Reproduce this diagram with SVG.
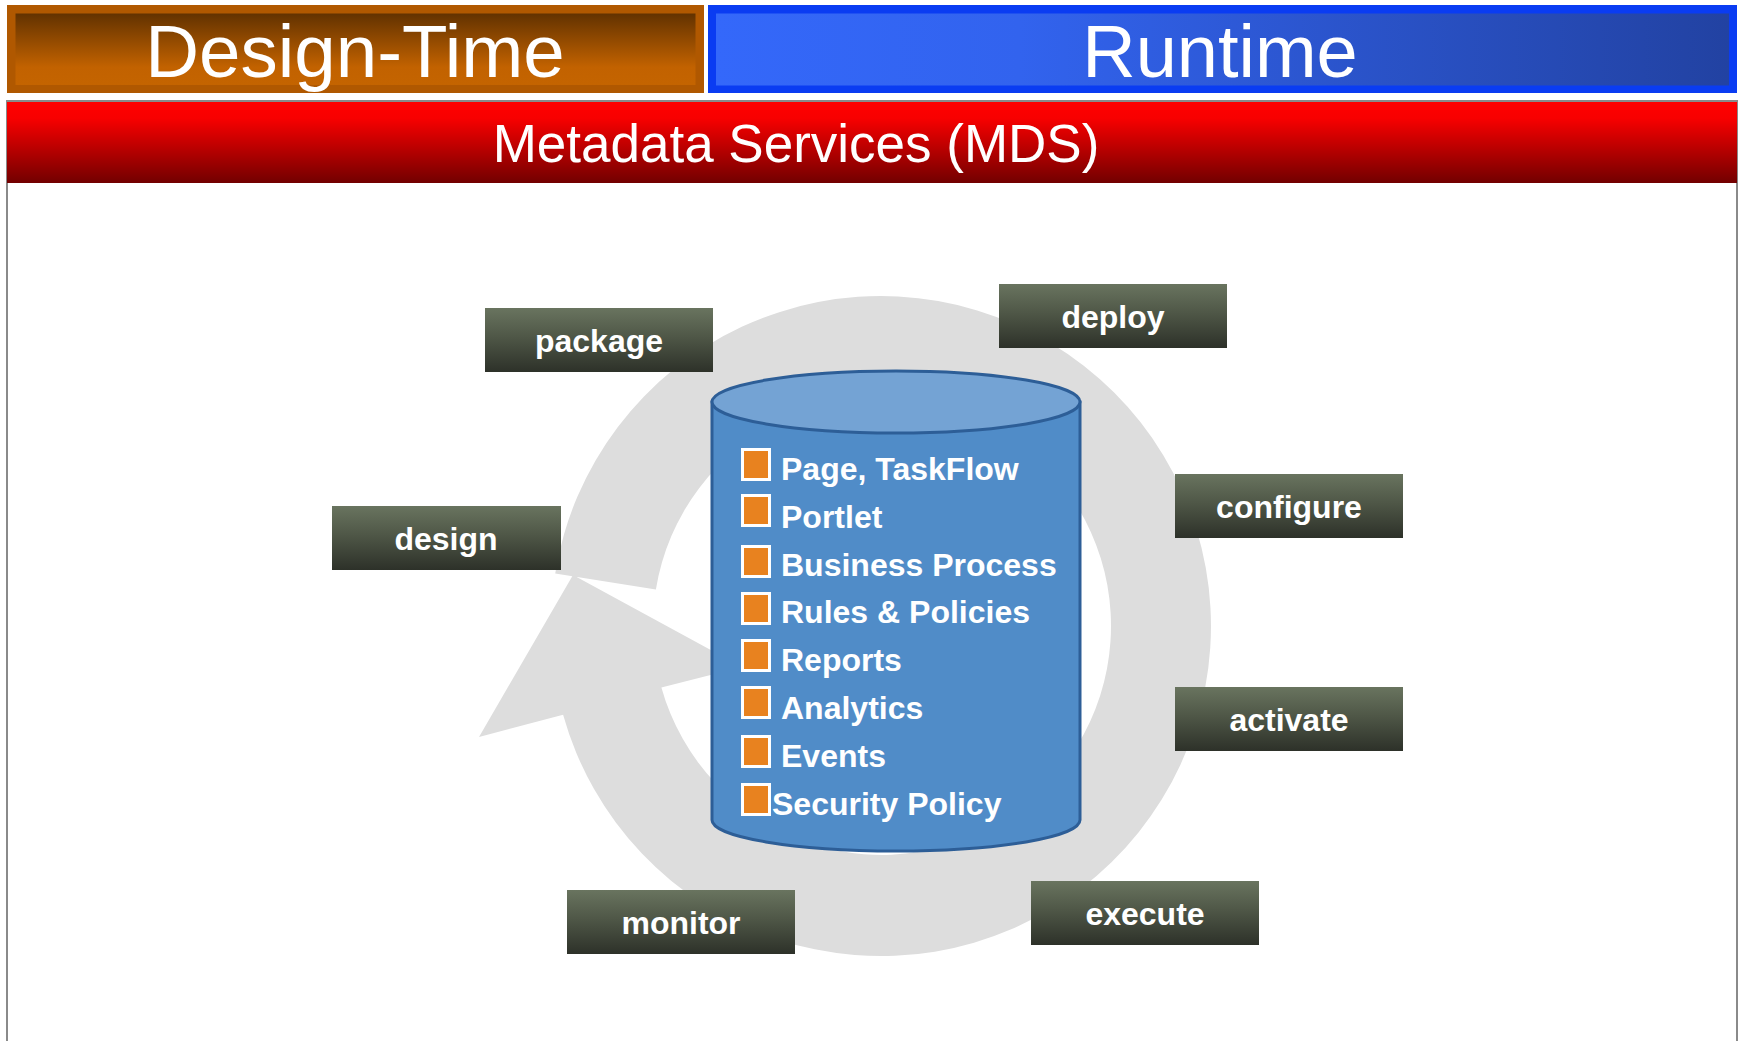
<svg xmlns="http://www.w3.org/2000/svg" width="1739" height="1041" viewBox="0 0 1739 1041">
<defs>
<linearGradient id="gDesign" x1="0" y1="0" x2="0" y2="1">
<stop offset="0" stop-color="#623200"/><stop offset="0.75" stop-color="#C26200"/><stop offset="1" stop-color="#C46400"/>
</linearGradient>
<linearGradient id="gRuntime" x1="0" y1="0" x2="1" y2="0">
<stop offset="0" stop-color="#3468FA"/><stop offset="0.3" stop-color="#3263EE"/><stop offset="1" stop-color="#2242A2"/>
</linearGradient>
<linearGradient id="gRed" x1="0" y1="0" x2="0" y2="1">
<stop offset="0" stop-color="#FF0000"/><stop offset="0.2" stop-color="#F80000"/><stop offset="1" stop-color="#720000"/>
</linearGradient>
<linearGradient id="gLabel" x1="0" y1="0" x2="0" y2="1">
<stop offset="0" stop-color="#69745F"/><stop offset="0.45" stop-color="#4F5747"/><stop offset="1" stop-color="#2D3129"/>
</linearGradient>
<style>
.hdr{font-family:"Liberation Sans",Arial,sans-serif;fill:#fff;text-anchor:middle}
.lbl rect{fill:url(#gLabel)}
.lbl text{font-family:"Liberation Sans",Arial,sans-serif;font-weight:bold;font-size:32px;fill:#fff;text-anchor:middle}
.item rect{fill:#E8821F;stroke:#fff;stroke-width:3}
.item text{font-family:"Liberation Sans",Arial,sans-serif;font-weight:bold;font-size:32px;fill:#fff}
</style>
</defs>
<rect width="1739" height="1041" fill="#fff"/>
<rect id="frame" x="7" y="101" width="1730" height="962" fill="#fff" stroke="#8a8a8a" stroke-width="2"/>

<g id="header-design">
<rect x="7" y="5" width="697" height="88" fill="#B05800"/>
<rect x="15.5" y="13.5" width="680" height="71.5" fill="url(#gDesign)"/>
<text class="hdr" x="355" y="77" font-size="74.5">Design-Time</text>
</g>
<g id="header-runtime">
<rect x="708" y="5" width="1029" height="88" fill="#0A3CF2"/>
<rect x="716" y="13.5" width="1013" height="72" fill="url(#gRuntime)"/>
<text class="hdr" x="1220" y="77" font-size="74">Runtime</text>
</g>
<g id="mds-bar">
<rect x="7" y="102" width="1730" height="81" fill="url(#gRed)"/>
<text class="hdr" x="796" y="161.5" font-size="53">Metadata Services (MDS)</text>
</g>

<g id="connectors">
<path id="cycle-arrow" fill="#DDDDDD" d="M555.2,573.4 A330,330 0 1 1 563.1,714.7 L479,737 L573,575 L742,667 L661.4,687.4 A229,229 0 1 0 655.9,589.6 Z"/>
</g>

<g id="repository">
<path d="M712,402 L712,820 A184,31 0 0 0 1080,820 L1080,402 Z" fill="#508CC8" stroke="#2D5E97" stroke-width="3"/>
<ellipse cx="896" cy="402" rx="184" ry="31" fill="#74A3D4" stroke="#2D5E97" stroke-width="3"/>
<g class="item"><rect x="742.5" y="449.5" width="27" height="30"/><text x="781" y="480">Page, TaskFlow</text></g>
<g class="item"><rect x="742.5" y="495.5" width="27" height="30"/><text x="781" y="527.5">Portlet</text></g>
<g class="item"><rect x="742.5" y="546.5" width="27" height="30"/><text x="781" y="575.5">Business Process</text></g>
<g class="item"><rect x="742.5" y="593.5" width="27" height="30"/><text x="781" y="623">Rules &amp; Policies</text></g>
<g class="item"><rect x="742.5" y="640.5" width="27" height="30"/><text x="781" y="670.5">Reports</text></g>
<g class="item"><rect x="742.5" y="687.5" width="27" height="30"/><text x="781" y="718.5">Analytics</text></g>
<g class="item"><rect x="742.5" y="736.5" width="27" height="30"/><text x="781" y="767">Events</text></g>
<g class="item"><rect x="742.5" y="784.5" width="27" height="30"/><text x="772" y="815">Security Policy</text></g>
</g>

<g id="label-package" class="lbl"><rect x="485" y="308" width="228" height="64"/><text x="599" y="352">package</text></g>
<g id="label-deploy" class="lbl"><rect x="999" y="284" width="228" height="64"/><text x="1113" y="328">deploy</text></g>
<g id="label-design" class="lbl"><rect x="332" y="506" width="229" height="64"/><text x="446" y="550">design</text></g>
<g id="label-configure" class="lbl"><rect x="1175" y="474" width="228" height="64"/><text x="1289" y="518">configure</text></g>
<g id="label-activate" class="lbl"><rect x="1175" y="687" width="228" height="64"/><text x="1289" y="731">activate</text></g>
<g id="label-monitor" class="lbl"><rect x="567" y="890" width="228" height="64"/><text x="681" y="934">monitor</text></g>
<g id="label-execute" class="lbl"><rect x="1031" y="881" width="228" height="64"/><text x="1145" y="925">execute</text></g>
</svg>
